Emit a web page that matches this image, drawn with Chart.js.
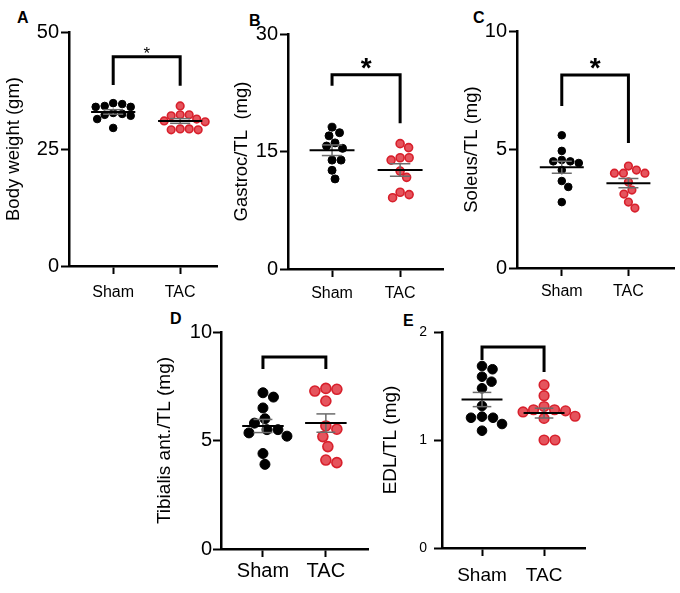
<!DOCTYPE html>
<html>
<head>
<meta charset="utf-8">
<script src="https://cdn.jsdelivr.net/npm/chart.js@4.4.1/dist/chart.umd.min.js"></script>
<style>
  body { margin: 0; background: #fff; width: 680px; height: 593px; position: relative; overflow: hidden;
         font-family: "Liberation Sans", Arial, sans-serif; }
  canvas { position: absolute; }
  .letter { position: absolute; font-weight: bold; font-size: 16px; line-height: 16px; color: #000; }
</style>
</head>
<body>
<div class="letter" style="left:17px;top:10px">A</div>
<div class="letter" style="left:249px;top:13px">B</div>
<div class="letter" style="left:473px;top:10px">C</div>
<div class="letter" style="left:170px;top:311px">D</div>
<div class="letter" style="left:403px;top:313px">E</div>

<canvas id="cA" width="225" height="310" style="left:0px;top:0px"></canvas>
<canvas id="cB" width="222" height="310" style="left:228px;top:0px"></canvas>
<canvas id="cC" width="222" height="310" style="left:458px;top:0px"></canvas>
<canvas id="cD" width="225" height="293" style="left:150px;top:300px"></canvas>
<canvas id="cE" width="220" height="293" style="left:376px;top:300px"></canvas>

<script>
// ---------- Data ----------
const groups = ["Sham", "TAC"];

const bodyWeightSham = [34.8, 34.6, 34.2, 34.0, 34.0, 32.7, 32.5, 32.3, 32.1, 31.4, 29.5];
const bodyWeightTac  = [34.2, 32.3, 32.3, 32.1, 31.4, 31.0, 30.8, 29.3, 29.3, 29.1, 29.1];
const gastrocSham    = [18.1, 17.4, 17.0, 16.1, 15.7, 15.4, 13.9, 13.9, 12.6, 11.5];
const gastrocTac     = [16.0, 15.5, 14.2, 14.2, 13.9, 12.5, 11.7, 9.8, 9.5, 9.1];
const soleusSham     = [5.6, 4.94, 4.56, 4.5, 4.5, 4.43, 4.13, 3.67, 3.42, 2.78];
const soleusTac      = [4.3, 4.13, 4.0, 4.0, 4.0, 3.63, 3.29, 3.12, 2.78, 2.53];
const tibialisSham   = [7.2, 7.0, 6.5, 6.0, 5.8, 5.5, 5.5, 5.35, 5.2, 4.4, 3.9];
const tibialisTac    = [7.4, 7.36, 7.28, 6.82, 5.67, 5.52, 5.18, 4.72, 4.1, 3.98];
const edlSham        = [1.685, 1.655, 1.586, 1.54, 1.479, 1.315, 1.216, 1.206, 1.206, 1.148, 1.086];
const edlTac         = [1.51, 1.41, 1.31, 1.28, 1.28, 1.27, 1.26, 1.22, 1.2, 1.0, 1.0];

const bodyWeightTicks = [0, 25, 50];
const gastrocTicks    = [0, 15, 30];
const soleusTicks     = [0, 5, 10];
const tibialisTicks   = [0, 5, 10];
const edlTicks        = [0, 1, 2];

// bracket: [left leg end, top, right leg end]
const bodyWeightBracket = [38.7, 44.7, 38.5];
const gastrocBracket    = [23.4, 24.8, 18.6];
const soleusBracket     = [6.84, 8.14, 5.27];
const tibialisBracket   = [8.3, 8.85, 8.3];
const edlBracket        = [1.74, 1.86, 1.63];

const sigMarks = ["*", "*", "*", "", ""];

// ---------- Panel setup ----------
const FONT = "'Liberation Sans', Arial, sans-serif";
const panels = [
  { canvas: "cA", title: "Body weight (gm)", sham: bodyWeightSham, tac: bodyWeightTac, ticks: bodyWeightTicks,
    bracket: bodyWeightBracket, sig: sigMarks[0], sigSize: 17, sigBold: false,
    yWidth: 69, padTop: 32, padRight: 8, xHeight: 44, xMin: 0.34, xMax: 2.55,
    yFont: 20, yPad: 2, xFont: 16, xPad: 9, titleFont: 18.5, r: 3.8 },
  { canvas: "cB", title: "Gastroc/TL  (mg)", sham: gastrocSham, tac: gastrocTac, ticks: gastrocTicks,
    bracket: gastrocBracket, sig: sigMarks[1], sigSize: 28, sigBold: true,
    yWidth: 60, padTop: 34, padRight: 7, xHeight: 41, xMin: 0.353, xMax: 2.63,
    yFont: 20, yPad: 2, xFont: 16, xPad: 7, titleFont: 18.5, r: 4 },
  { canvas: "cC", title: "Soleus/TL (mg)", sham: soleusSham, tac: soleusTac, ticks: soleusTicks,
    bracket: soleusBracket, sig: sigMarks[2], sigSize: 28, sigBold: true,
    yWidth: 59, padTop: 31, padRight: 5, xHeight: 42, xMin: 0.328, xMax: 2.69,
    yFont: 20, yPad: 2, xFont: 16, xPad: 6, titleFont: 18.5, r: 3.8 },
  { canvas: "cD", title: "Tibialis ant./TL (mg)", sham: tibialisSham, tac: tibialisTac, ticks: tibialisTicks,
    bracket: tibialisBracket, sig: sigMarks[3], sigSize: 28, sigBold: true,
    yWidth: 71, padTop: 32, padRight: 7, xHeight: 44, xMin: 0.333, xMax: 2.67,
    yFont: 20, yPad: 1, xFont: 20, xPad: 2, titleFont: 19, r: 5 },
  { canvas: "cE", title: "EDL/TL (mg)", sham: edlSham, tac: edlTac, ticks: edlTicks,
    bracket: edlBracket, sig: sigMarks[4], sigSize: 28, sigBold: true,
    yWidth: 66, padTop: 32, padRight: 11, xHeight: 45, xMin: 0.355, xMax: 2.66,
    yFont: 14, yPad: 7, xFont: 19, xPad: 8, titleFont: 19, r: 4.8 }
];

// ---------- Helpers ----------
function mean(a) { return a.reduce((s, v) => s + v, 0) / a.length; }
function sem(a) {
  const m = mean(a);
  const sd = Math.sqrt(a.reduce((s, v) => s + (v - m) * (v - m), 0) / (a.length - 1));
  return sd / Math.sqrt(a.length);
}
function seg(x1, y1, x2, y2, color, width) {
  return { type: "scatter", showLine: true, data: [{ x: x1, y: y1 }, { x: x2, y: y2 }],
           borderColor: color, borderWidth: width, pointRadius: 0, borderCapStyle: "butt" };
}
function statLines(values, c) {
  const m = mean(values), e = sem(values);
  return [
    seg(c - 0.33, m, c + 0.33, m, "#000", 2),
    seg(c, m - e, c, m + e, "#6b6b6b", 1.5),
    seg(c - 0.15, m + e, c + 0.15, m + e, "#6b6b6b", 1.5),
    seg(c - 0.15, m - e, c + 0.15, m - e, "#6b6b6b", 1.5)
  ];
}

// simple beeswarm: spread points sideways so dots don't overlap
function swarm(chart, values, center, r) {
  const xs = chart.scales.x, ys = chart.scales.y;
  const cx = xs.getPixelForValue(center);
  const placed = [];
  const out = new Array(values.length);
  const order = values.map((v, i) => i).sort((a, b) => values[b] - values[a]);
  order.forEach(i => {
    const py = ys.getPixelForValue(values[i]);
    let off = 0;
    for (let k = 0; k < 400; k++) {
      const cand = k === 0 ? 0 : (k % 2 ? 1 : -1) * Math.ceil(k / 2) * 0.5;
      if (placed.every(p => Math.hypot(p.x - (cx + cand), p.y - py) >= 2 * r + 1)) { off = cand; break; }
    }
    placed.push({ x: cx + off, y: py });
    out[i] = { x: xs.getValueForPixel(cx + off), y: values[i] };
  });
  return out;
}

// draws the significance mark above each bracket
const sigPlugin = {
  id: "sig",
  afterDatasetsDraw(chart, args, opts) {
    if (!opts.text) return;
    const ctx = chart.ctx;
    const x = chart.scales.x.getPixelForValue(1.5);
    const y = chart.scales.y.getPixelForValue(opts.top);
    ctx.save();
    ctx.fillStyle = "#000";
    ctx.font = (opts.bold ? "bold " : "") + opts.size + "px " + FONT;
    ctx.textAlign = "center";
    ctx.textBaseline = "alphabetic";
    ctx.fillText(opts.text, x, y + opts.size * 0.05 + 1);
    ctx.restore();
  }
};

// ---------- Build charts ----------
panels.forEach(p => {
  const b = p.bracket;
  const datasets = [
    ...statLines(p.sham, 1),
    ...statLines(p.tac, 2),
    { type: "scatter", showLine: true, data: [{ x: 1, y: b[0] }, { x: 1, y: b[1] }, { x: 2, y: b[1] }, { x: 2, y: b[2] }],
      borderColor: "#000", borderWidth: 3, pointRadius: 0, borderJoinStyle: "miter" },
    { type: "scatter", label: groups[0], data: p.sham.map(v => ({ x: 1, y: v })),
      pointRadius: p.r, backgroundColor: "#000", borderColor: "#000", borderWidth: 1 },
    { type: "scatter", label: groups[1], data: p.tac.map(v => ({ x: 2, y: v })),
      pointRadius: p.r, backgroundColor: "#e5545d", borderColor: "#d8202c", borderWidth: 1.6 }
  ];

  const chart = new Chart(document.getElementById(p.canvas), {
    type: "scatter",
    data: { datasets },
    options: {
      responsive: false,
      animation: false,
      events: [],
      layout: { padding: { left: 0, top: p.padTop, right: p.padRight, bottom: 0 } },
      plugins: {
        legend: { display: false },
        tooltip: { enabled: false },
        sig: { text: p.sig, top: b[1], size: p.sigSize, bold: p.sigBold }
      },
      scales: {
        x: {
          type: "linear", min: p.xMin, max: p.xMax,
          afterBuildTicks: s => { s.ticks = [{ value: 1 }, { value: 2 }]; },
          afterFit: s => { s.height = p.xHeight; },
          ticks: { callback: v => groups[v - 1], color: "#000", padding: p.xPad,
                   font: { family: FONT, size: p.xFont }, maxRotation: 0 },
          grid: { drawOnChartArea: false, drawTicks: true, tickLength: 8, tickWidth: 2, color: "#000" },
          border: { display: true, width: 2.5, color: "#000" }
        },
        y: {
          min: p.ticks[0], max: p.ticks[p.ticks.length - 1],
          afterBuildTicks: s => { s.ticks = p.ticks.map(v => ({ value: v })); },
          afterFit: s => { s.width = p.yWidth; },
          ticks: { color: "#000", padding: p.yPad, font: { family: FONT, size: p.yFont } },
          grid: { drawOnChartArea: false, drawTicks: true, tickLength: 8, tickWidth: 2, color: "#000" },
          border: { display: true, width: 2.5, color: "#000" },
          title: { display: true, text: p.title, color: "#000", padding: { top: 3, bottom: 0 },
                   font: { family: FONT, size: p.titleFont } }
        }
      }
    },
    plugins: [sigPlugin]
  });

  // spread the dots once the scales are known
  const n = datasets.length;
  chart.data.datasets[n - 2].data = swarm(chart, p.sham, 1, p.r);
  chart.data.datasets[n - 1].data = swarm(chart, p.tac, 2, p.r);
  chart.update();
});
</script>
</body>
</html>
